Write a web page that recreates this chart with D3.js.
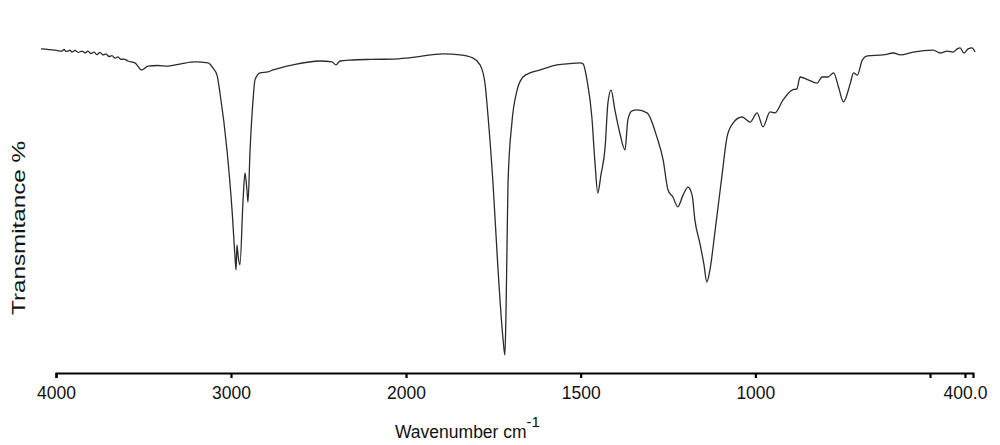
<!DOCTYPE html>
<html>
<head>
<meta charset="utf-8">
<script src="https://cdn.jsdelivr.net/npm/d3@7"></script>
<style>
  body { margin: 0; background: #fff; }
  svg { display: block; font-family: "Liberation Sans", Arial, sans-serif; }
</style>
</head>
<body>
<div id="chart"></div>
<script>
// spectrum (cm-1 and %T)
const wavenumbers = [
  4086, 4006, 3966, 3954, 3943, 3931, 3920, 3909, 3891, 3874, 3851, 3834, 3817, 3800, 3783, 3766,
  3749, 3731, 3714, 3697, 3680, 3663, 3646, 3629, 3611, 3589, 3549, 3509, 3474, 3420, 3360, 3280,
  3206, 3131, 3103, 3080, 3063, 3023, 2994, 2977, 2971, 2966, 2958, 2949, 2931, 2920, 2909, 2903,
  2891, 2874, 2863, 2834, 2789, 2760, 2646, 2491, 2423, 2400, 2377, 2320, 2200, 2074, 2000,
  1969, 1894, 1845, 1808, 1788, 1774, 1765, 1751, 1737, 1722, 1717, 1714, 1711, 1708, 1697,
  1682, 1665, 1645, 1616, 1568, 1531, 1502, 1493, 1482, 1468, 1459, 1451, 1442, 1430, 1422,
  1413, 1402, 1388, 1373, 1365, 1353, 1339, 1310, 1282, 1264, 1250, 1236, 1222, 1207, 1193,
  1181, 1173, 1159, 1147, 1139, 1130, 1116, 1096, 1081, 1064, 1038, 1015, 995, 978, 958, 944,
  921, 895, 881, 872, 849, 823, 809, 792, 776, 762, 748, 728, 719, 708, 694, 679, 634, 605,
  585, 548, 491, 471, 451, 434, 422, 414, 403, 391, 380, 371
];
const transmittance = [
  98.8, 98.4, 98.1, 98.6, 98.0, 98.1, 98.4, 97.8, 98.3, 97.7, 98.1, 97.5, 98.1, 97.3, 97.8, 97.0,
  97.7, 96.9, 97.2, 96.4, 96.7, 95.9, 96.3, 95.5, 95.6, 95.0, 94.4, 92.2, 93.4, 93.6, 93.4, 94.2,
  94.7, 94.4, 92.8, 90.6, 85.0, 67.2, 48.4, 33.8, 29.7, 37.5, 33.5, 31.3, 51.6, 60.0, 54.7, 50.9,
  67.2, 82.8, 89.1, 91.3, 91.6, 92.2, 93.8, 95.0, 94.7, 93.8, 95.0, 95.3, 95.5, 95.6, 95.9,
  96.3, 97.2, 96.9, 95.9, 93.8, 88.1, 77.5, 56.9, 30.6, 7.8, 3.1, 15.0, 35.9, 56.9, 75.6,
  85.9, 90.0, 91.3, 92.2, 93.8, 94.2, 94.4, 94.1, 89.1, 77.5, 63.1, 53.8, 59.4, 68.1, 81.9,
  85.9, 79.7, 72.5, 67.2, 76.6, 79.4, 79.7, 78.8, 71.3, 64.1, 54.7, 52.5, 49.4, 53.1, 55.6,
  53.1, 45.3, 38.1, 31.3, 25.9, 29.7, 41.3, 58.8, 71.3, 75.6, 77.5, 75.9, 78.8, 74.4, 79.1, 78.8,
  82.8, 85.9, 86.3, 90.0, 89.1, 88.1, 90.0, 90.0, 91.3, 86.9, 82.2, 88.1, 91.3, 90.6, 95.3, 96.6, 96.9, 97.5,
  96.9, 97.8, 98.4, 97.5, 98.1, 97.8, 98.8, 99.1, 97.5, 98.8, 99.1, 97.8
];

const tickValues = [4000, 3000, 2000, 1500, 1000, 500, 400];
const tickLabels = ["4000", "3000", "2000", "1500", "1000", "", "400.0"];

const width = 1000, height = 445;

const svg = d3.select("#chart").append("svg")
  .attr("width", width)
  .attr("height", height);

// FTIR style axis: scale doubles below 2000 cm-1
const x = d3.scaleLinear()
  .domain([4000, 2000, 377])
  .range([56, 406, 973]);

const y = d3.scaleLinear()
  .domain([0, 100])
  .range([365, 45]);

const points = wavenumbers.map((w, i) => ({ w: w, t: transmittance[i] }));

const line = d3.line()
  .x(d => x(d.w))
  .y(d => y(d.t))
  .curve(d3.curveMonotoneX);

svg.append("path")
  .datum(points)
  .attr("d", line)
  .attr("fill", "none")
  .attr("stroke", "#2b2b2b")
  .attr("stroke-width", 1.3)
  .attr("stroke-linejoin", "round");

const xAxis = d3.axisBottom(x)
  .tickValues(tickValues)
  .tickFormat((d, i) => tickLabels[i])
  .tickSizeOuter(0)
  .tickSize(5)
  .tickPadding(9);

const gx = svg.append("g")
  .attr("transform", "translate(0,373)")
  .call(xAxis);

gx.select(".domain").attr("stroke", "#000").attr("stroke-width", 2.2);
gx.selectAll(".tick line").attr("stroke", "#000").attr("stroke-width", 2.2);
gx.selectAll(".tick text")
  .attr("fill", "#111")
  .style("font-size", "17.5px")
  .style("font-family", "'Liberation Sans', Arial, sans-serif");

// axis titles
const xt = svg.append("text")
  .attr("x", 395)
  .attr("y", 438)
  .attr("fill", "#111")
  .style("font-size", "17.5px");
xt.append("tspan").text("Wavenumber cm");
xt.append("tspan")
  .attr("dy", -11)
  .style("font-size", "15px")
  .text("-1");

svg.append("text")
  .attr("transform", "translate(25,228) rotate(-90)")
  .attr("text-anchor", "middle")
  .attr("fill", "#111")
  .attr("textLength", 174)
  .attr("lengthAdjust", "spacingAndGlyphs")
  .style("font-size", "18px")
  .text("Transmitance %");
</script>
</body>
</html>
